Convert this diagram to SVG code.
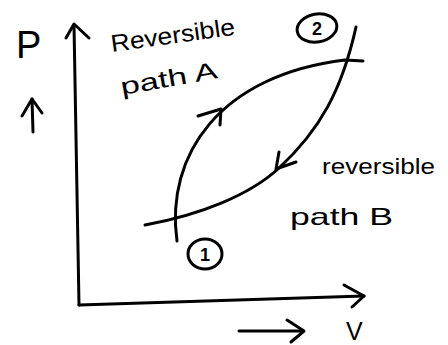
<svg xmlns="http://www.w3.org/2000/svg" width="448" height="345" viewBox="0 0 448 345">
<style>
.ln{fill:none;stroke:#000;stroke-width:3;stroke-linecap:round;stroke-linejoin:round}
.tx{font-family:"Liberation Sans","DejaVu Sans",sans-serif;fill:#000}
</style>
<rect width="448" height="345" fill="#fff"/>
<g id="axes">
<path class="ln" d="M79,305 L74,25"/>
<polyline class="ln" points="66,38 74,24 89,38"/>
<path class="ln" d="M79,305 L364,296"/>
<polyline class="ln" points="344,285 364,296 352,307"/>
<text class="tx" x="16" y="58" font-size="38">P</text>
<path class="ln" d="M33,132 L32,99"/>
<polyline class="ln" points="22,116 32,99 42,113"/>
<text class="tx" x="346" y="340" font-size="25">V</text>
<path class="ln" d="M239,331 L303,331"/>
<polyline class="ln" points="287,320 304,331 291,342"/>
</g>
<g id="state1">
<ellipse class="ln" cx="205" cy="254" rx="17" ry="15" stroke-width="2.5"/>
<text class="tx" x="205" y="261" font-size="18" text-anchor="middle" font-weight="bold">1</text>
</g>
<g id="state2">
<ellipse class="ln" cx="317" cy="28" rx="20" ry="14" stroke-width="2.5" transform="rotate(-10 317 28)"/>
<text class="tx" x="317" y="35" font-size="18" text-anchor="middle" font-weight="bold">2</text>
</g>
<g id="connectors">
<path id="pathA" class="ln" d="M177,241 C165,155 220,75 345,60 L363,61"/>
<polyline class="ln" points="198,116 221,109 220,125"/>
<path id="pathB" class="ln" d="M356,27 C342,90 320,130 279,168 C250,195 200,215 145,225"/>
<polyline class="ln" points="279,152 276,169 296,162"/>
</g>
<g id="labelA">
<text class="tx" x="112" y="52" font-size="24" textLength="125" lengthAdjust="spacingAndGlyphs" transform="rotate(-8 112 52)">Reversible</text>
<text class="tx" x="122" y="95" font-size="24" textLength="98" lengthAdjust="spacingAndGlyphs" transform="rotate(-10 122 95)">path A</text>
</g>
<g id="labelB">
<text class="tx" x="322" y="174" font-size="22" textLength="113" lengthAdjust="spacingAndGlyphs">reversible</text>
<text class="tx" x="290" y="225" font-size="24" textLength="103" lengthAdjust="spacingAndGlyphs">path B</text>
</g>
</svg>
